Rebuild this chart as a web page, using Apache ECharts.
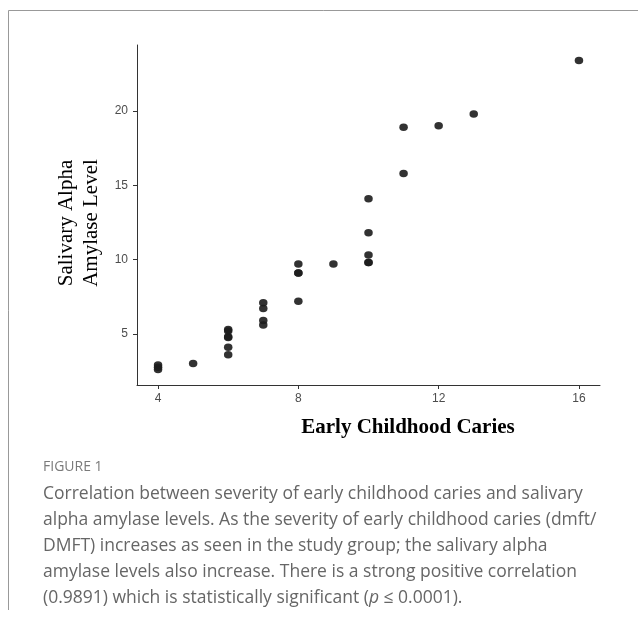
<!DOCTYPE html>
<html>
<head>
<meta charset="utf-8">
<script src="https://cdn.jsdelivr.net/npm/echarts@6/dist/echarts.min.js"></script>
<style>
  html, body { margin: 0; padding: 0; background: #fff; }
  #chart { width: 638px; height: 621px; }
</style>
</head>
<body>
<div id="chart"></div>
<script>
// Data
const cariesScore = [4, 4, 4, 5, 6, 6, 6, 6, 6, 6, 7, 7, 7, 7, 8, 8, 8, 8, 9, 10, 10, 10, 10, 10, 11, 11, 12, 13, 16];
const amylaseLevel = [2.9, 2.75, 2.6, 3.0, 5.3, 5.2, 4.8, 4.75, 4.1, 3.6, 7.1, 6.7, 5.9, 5.6, 9.7, 9.1, 9.1, 7.2, 9.7, 14.1, 11.8, 10.3, 9.8, 9.8, 18.9, 15.8, 19.0, 19.8, 23.4];
const xTicks = [4, 8, 12, 16];
const yTicks = [5, 10, 15, 20];
const xTitle = 'Early Childhood Caries';
const yTitleLines = ['Salivary Alpha', 'Amylase Level'];
const figureLabel = 'FIGURE 1';
const captionLines = [
  'Correlation between severity of early childhood caries and salivary',
  'alpha amylase levels. As the severity of early childhood caries (dmft/',
  'DMFT) increases as seen in the study group; the salivary alpha',
  'amylase levels also increase. There is a strong positive correlation',
  '(0.9891) which is statistically significant ({i|p} ≤ 0.0001).'
];

const points = cariesScore.map((x, i) => [x, amylaseLevel[i]]);

// ggplot-like 5% expansion of the data range
const xMinD = Math.min(...cariesScore), xMaxD = Math.max(...cariesScore);
const yMinD = Math.min(...amylaseLevel), yMaxD = Math.max(...amylaseLevel);
const xPad = (xMaxD - xMinD) * 0.05, yPad = (yMaxD - yMinD) * 0.05;

const chart = echarts.init(document.getElementById('chart'), null, { renderer: 'canvas' });

const axisColor = '#333';
const labelStyle = { color: '#4d4d4d', fontSize: 12, fontFamily: 'Liberation Sans, Arial, sans-serif' };
const serif = '"Liberation Serif", "Times New Roman", serif';

chart.setOption({
  animation: false,
  backgroundColor: '#fff',
  grid: { left: 137, right: 38, top: 45, bottom: 236, containLabel: false },
  xAxis: {
    type: 'value',
    min: xMinD - xPad,
    max: xMaxD + xPad,
    splitLine: { show: false },
    axisLine: { show: true, onZero: false, lineStyle: { color: axisColor, width: 1 } },
    axisTick: { show: true, length: 4, customValues: xTicks, lineStyle: { color: axisColor } },
    axisLabel: { customValues: xTicks, margin: 8, ...labelStyle }
  },
  yAxis: {
    type: 'value',
    min: yMinD - yPad,
    max: yMaxD + yPad,
    splitLine: { show: false },
    axisLine: { show: true, onZero: false, lineStyle: { color: axisColor, width: 1 } },
    axisTick: { show: true, length: 4, customValues: yTicks, lineStyle: { color: axisColor } },
    axisLabel: { customValues: yTicks, margin: 9, ...labelStyle }
  },
  series: [{
    type: 'scatter',
    data: points,
    symbol: 'circle',
    symbolSize: [8.5, 7.5],
    itemStyle: { color: '#1c1c1c', opacity: 0.9 }
  }],
  graphic: [
    // frame lines
    { type: 'line', shape: { x1: 8.5, y1: 10.5, x2: 638, y2: 10.5 }, style: { stroke: '#999', lineWidth: 1 } },
    { type: 'line', shape: { x1: 8.5, y1: 10.5, x2: 8.5, y2: 610 }, style: { stroke: '#999', lineWidth: 1 } },
    // axis titles
    { type: 'text', x: 408, y: 428, style: { text: xTitle, font: 'bold 21px ' + serif, fill: '#000', align: 'center', verticalAlign: 'middle' } },
    { type: 'text', x: 66, y: 223, rotation: Math.PI / 2, style: { text: yTitleLines[0], font: '21px ' + serif, fill: '#000', align: 'center', verticalAlign: 'middle' } },
    { type: 'text', x: 91, y: 223, rotation: Math.PI / 2, style: { text: yTitleLines[1], font: '21px ' + serif, fill: '#000', align: 'center', verticalAlign: 'middle' } },
    // caption
    { type: 'text', x: 43, y: 467, style: { text: figureLabel, font: '14px "Open Sans", sans-serif', fill: '#7a7a7a', verticalAlign: 'middle' } },
    ...captionLines.map((t, i) => ({
      type: 'text', x: 43, y: 494 + i * 26,
      style: {
        text: t, fill: '#666', verticalAlign: 'middle',
        font: '17.5px "Open Sans", sans-serif',
        rich: { i: { fontStyle: 'italic', fontSize: 17.5, fontFamily: 'Open Sans', fill: '#666' } }
      }
    }))
  ]
});
</script>
</body>
</html>
